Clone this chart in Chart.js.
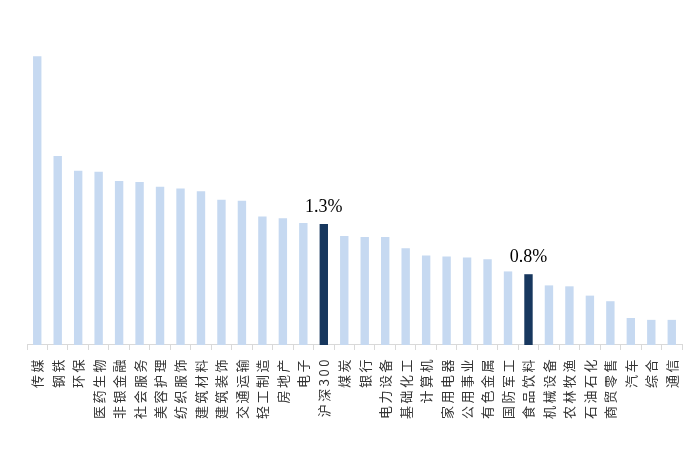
<!DOCTYPE html>
<html>
<head>
<meta charset="utf-8">
<script src="https://cdn.jsdelivr.net/npm/chart.js@4"></script>
<style>
    html, body { margin: 0; padding: 0; background: #fff; }
    #wrap { width: 700px; height: 450px; }
</style>
</head>
<body>
<div id="wrap"><canvas id="industryChart"></canvas></div>
<script>
// industry names, sorted by value
var industries = ['传媒', '钢铁', '环保', '医药生物', '非银金融', '社会服务', '美容护理', '纺织服饰',
    '建筑材料', '建筑装饰', '交通运输', '轻工制造', '房地产', '电子', '沪深300', '煤炭',
    '银行', '电力设备', '基础化工', '计算机', '家用电器', '公用事业', '有色金属', '国防军工',
    '食品饮料', '机械设备', '农林牧渔', '石油石化', '商贸零售', '汽车', '综合', '通信'];

// values in %
var values = [3.10, 2.03, 1.87, 1.86, 1.76, 1.75, 1.70, 1.68,
    1.65, 1.56, 1.55, 1.38, 1.36, 1.31, 1.30, 1.17,
    1.16, 1.16, 1.04, 0.96, 0.95, 0.94, 0.92, 0.79,
    0.76, 0.64, 0.63, 0.53, 0.47, 0.29, 0.27, 0.27];

// bars that get the dark colour and a value label
var highlighted = ['沪深300', '食品饮料'];

var lightBlue = '#c6d9f1';
var darkBlue = '#17375e';

var barColors = industries.map(function (name) {
    return highlighted.indexOf(name) >= 0 ? darkBlue : lightBlue;
});

// wider spacing between the characters of the axis labels
var labelSpacing = {
    id: 'labelSpacing',
    beforeUpdate: function (chart) {
        chart.ctx.letterSpacing = '2.5px';
    },
    beforeDraw: function (chart) {
        chart.ctx.letterSpacing = '2.5px';
    }
};

// draws "1.3%" style labels above highlighted bars
var valueLabels = {
    id: 'valueLabels',
    afterDatasetsDraw: function (chart) {
        var ctx = chart.ctx;
        var meta = chart.getDatasetMeta(0);
        ctx.save();
        ctx.letterSpacing = '0px';
        ctx.font = '18px "Liberation Serif", "Times New Roman", serif';
        ctx.fillStyle = '#000';
        ctx.textAlign = 'center';
        ctx.textBaseline = 'alphabetic';
        meta.data.forEach(function (bar, i) {
            if (highlighted.indexOf(industries[i]) < 0) return;
            ctx.fillText(values[i].toFixed(1) + '%', bar.x, bar.y - 12);
        });
        ctx.restore();
    }
};

var ctx = document.getElementById('industryChart');
var industryBarChart = new Chart(ctx, {
    type: 'bar',
    data: {
        labels: industries,
        datasets: [{
            data: values,
            backgroundColor: barColors,
            borderWidth: 0,
            barPercentage: 0.41,
            categoryPercentage: 1
        }]
    },
    options: {
        responsive: true,
        maintainAspectRatio: false,
        animation: false,
        layout: {
            padding: { top: 19, left: 27, right: 18, bottom: 24 }
        },
        plugins: {
            legend: { display: false },
            tooltip: { enabled: false }
        },
        scales: {
            x: {
                grid: {
                    offset: true,
                    drawOnChartArea: false,
                    drawTicks: true,
                    tickLength: 5,
                    color: '#d9d9d9'
                },
                border: { display: true, color: '#d9d9d9', width: 1 },
                ticks: {
                    autoSkip: false,
                    minRotation: 90,
                    maxRotation: 90,
                    padding: 7,
                    color: '#333333',
                    font: { family: '"Noto Sans CJK SC", sans-serif', size: 13 }
                }
            },
            y: {
                display: false,
                min: 0,
                max: 3.5
            }
        }
    },
    plugins: [labelSpacing, valueLabels]
});
</script>
</body>
</html>
